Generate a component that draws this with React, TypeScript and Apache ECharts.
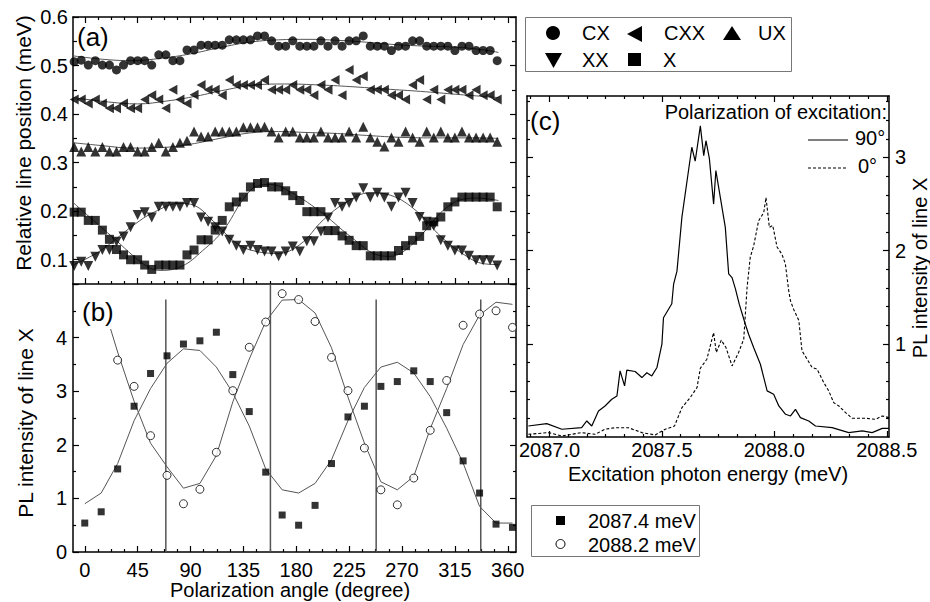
import React, { useEffect, useRef } from "react";
import * as echarts from "echarts";

const FONT = '"Liberation Sans", Arial, Helvetica, sans-serif';

// ---------- Panel (a): relative line positions ----------
const anglesA = [-9, -3, 3, 9, 15, 21, 27, 33, 39, 45, 51, 57, 63, 69, 75, 81, 87, 93, 99, 105, 111, 117, 123, 129, 135, 141, 147, 153, 159, 165, 171, 177, 183, 189, 195, 201, 207, 213, 219, 225, 231, 237, 243, 249, 255, 261, 267, 273, 279, 285, 291, 297, 303, 309, 315, 321, 327, 333, 339, 345, 351];
const cxVals = [0.508, 0.511, 0.501, 0.510, 0.501, 0.501, 0.491, 0.501, 0.510, 0.510, 0.510, 0.501, 0.522, 0.522, 0.510, 0.510, 0.532, 0.532, 0.542, 0.542, 0.542, 0.542, 0.553, 0.553, 0.553, 0.553, 0.561,
  0.561, 0.551, 0.540, 0.540, 0.551, 0.540, 0.540, 0.540, 0.551, 0.540, 0.551, 0.540, 0.551, 0.551, 0.561, 0.540, 0.540, 0.540, 0.531, 0.540, 0.540, 0.551, 0.551, 0.540, 0.540, 0.540, 0.540, 0.531, 0.540, 0.540, 0.531, 0.531, 0.531, 0.510];
const cxxVals = [0.430, 0.430, 0.422, 0.430, 0.422, 0.412, 0.412, 0.422, 0.412, 0.412, 0.430, 0.439, 0.430, 0.412, 0.450, 0.430, 0.422, 0.440, 0.460, 0.450, 0.450, 0.439, 0.470, 0.460, 0.460, 0.460, 0.460,
  0.470, 0.450, 0.450, 0.450, 0.460, 0.450, 0.450, 0.439, 0.460, 0.450, 0.470, 0.439, 0.491, 0.470, 0.478, 0.450, 0.450, 0.450, 0.439, 0.439, 0.430, 0.460, 0.470, 0.430, 0.450, 0.430, 0.450, 0.450, 0.450, 0.439, 0.450, 0.439, 0.439, 0.430];
const uxVals = [0.332, 0.323, 0.332, 0.323, 0.332, 0.323, 0.323, 0.332, 0.332, 0.323, 0.323, 0.332, 0.341, 0.323, 0.332, 0.341, 0.345, 0.364, 0.354, 0.354, 0.364, 0.364, 0.364, 0.364, 0.373, 0.373, 0.373,
  0.374, 0.364, 0.352, 0.364, 0.364, 0.352, 0.352, 0.352, 0.364, 0.352, 0.352, 0.352, 0.364, 0.352, 0.374, 0.352, 0.343, 0.333, 0.352, 0.343, 0.364, 0.352, 0.343, 0.364, 0.352, 0.364, 0.352, 0.352, 0.364, 0.352, 0.352, 0.352, 0.352, 0.343];
const xxVals = [0.087, 0.096, 0.087, 0.106, 0.120, 0.120, 0.137, 0.148, 0.167, 0.192, 0.198, 0.187, 0.209, 0.209, 0.209, 0.209, 0.217, 0.217, 0.187, 0.178, 0.167, 0.158, 0.141, 0.129, 0.120, 0.129, 0.120,
  0.117, 0.117, 0.107, 0.117, 0.127, 0.117, 0.138, 0.138, 0.158, 0.187, 0.217, 0.209, 0.217, 0.228, 0.247, 0.228, 0.238, 0.228, 0.209, 0.228, 0.238, 0.217, 0.188, 0.178, 0.170, 0.140, 0.129, 0.119, 0.119, 0.108, 0.099, 0.099, 0.099, 0.088];
const xVals = [0.198, 0.198, 0.181, 0.181, 0.161, 0.142, 0.121, 0.110, 0.100, 0.100, 0.089, 0.080, 0.089, 0.089, 0.089, 0.089, 0.110, 0.120, 0.141, 0.141, 0.161, 0.181, 0.209, 0.219, 0.229, 0.250, 0.257,
  0.259, 0.250, 0.250, 0.242, 0.232, 0.222, 0.199, 0.199, 0.199, 0.160, 0.160, 0.149, 0.140, 0.129, 0.129, 0.108, 0.108, 0.108, 0.108, 0.119, 0.129, 0.140, 0.148, 0.170, 0.178, 0.188, 0.209, 0.219, 0.229, 0.229, 0.229, 0.229, 0.229, 0.209];

const fitCxAng = [-10, 15, 40, 65, 90, 115, 140, 165, 190, 215, 240, 265, 290, 315, 340, 352];
const fitCxVal = [0.520, 0.513, 0.510, 0.515, 0.524, 0.537, 0.548, 0.553, 0.554, 0.552, 0.548, 0.543, 0.540, 0.538, 0.532, 0.527];
const fitCxxAng = [-10, 20, 45, 70, 95, 120, 145, 170, 200, 230, 260, 290, 320, 352];
const fitCxxVal = [0.434, 0.425, 0.421, 0.427, 0.437, 0.450, 0.460, 0.462, 0.460, 0.456, 0.451, 0.446, 0.440, 0.434];
const fitUxAng = [-10, 15, 40, 65, 90, 115, 140, 165, 190, 215, 240, 270, 300, 330, 352];
const fitUxVal = [0.341, 0.335, 0.330, 0.331, 0.338, 0.350, 0.361, 0.364, 0.362, 0.360, 0.356, 0.352, 0.351, 0.351, 0.350];
const fitXxAng = [-10, 13, 42, 59, 81, 93, 110, 127, 141, 164, 183, 203, 223, 243, 260, 283, 303, 325, 339, 352];
const fitXxVal = [0.089, 0.118, 0.172, 0.198, 0.216, 0.212, 0.178, 0.138, 0.120, 0.113, 0.131, 0.182, 0.219, 0.238, 0.233, 0.199, 0.148, 0.107, 0.092, 0.090];
const fitXAng = [-10, 22, 53, 65, 83, 100, 118, 135, 147, 158, 172, 200, 226, 249, 260, 270, 283, 311, 334, 352];
const fitXVal = [0.218, 0.150, 0.086, 0.078, 0.087, 0.118, 0.161, 0.225, 0.252, 0.255, 0.244, 0.200, 0.148, 0.110, 0.107, 0.115, 0.142, 0.213, 0.227, 0.222];

// ---------- Panel (b): PL intensity vs polarization angle ----------
const anglesB = [0, 14, 28, 42, 56, 70, 84, 98, 112, 126, 140, 154, 168, 182, 196, 210, 224, 238, 252, 266, 280, 294, 308, 322, 336, 350, 364];
const sq874 = [0.54, 0.75, 1.55, 2.72, 3.33, 3.66, 3.88, 3.94, 4.10, 3.31, 2.62, 1.49, 0.69, 0.50, 0.87, 1.65, 2.52, 2.72, 3.09, 3.18, 3.38, 3.18, 2.60, 1.70, 1.10, 0.52, 0.46];
const ci882 = [null, null, 3.58, 3.09, 2.17, 1.43, 0.90, 1.17, 1.86, 3.01, 3.82, 4.29, 4.82, 4.71, 4.30, 3.63, 3.01, 1.94, 1.16, 0.88, 1.38, 2.27, 3.20, 4.23, 4.44, 4.50, 4.19];
const fitSqB = [0.90, 1.10, 1.65, 2.45, 3.05, 3.52, 3.79, 3.76, 3.45, 2.97, 2.35, 1.55, 1.16, 1.10, 1.28, 1.72, 2.45, 3.07, 3.45, 3.54, 3.34, 2.90, 2.31, 1.66, 0.85, 0.54, 0.54];
const fitCiAng = [22, 28, 42, 56, 70, 84, 98, 112, 126, 140, 154, 168, 182, 196, 210, 224, 238, 252, 266, 280, 294, 308, 322, 336, 350, 364];
const fitCiVal = [4.16, 3.73, 2.81, 2.03, 1.59, 1.19, 1.28, 1.80, 2.80, 3.60, 4.30, 4.70, 4.71, 4.46, 3.81, 2.89, 2.03, 1.31, 1.16, 1.41, 2.30, 3.05, 3.87, 4.42, 4.66, 4.62];
const vLineAng = [69, 158, 248, 337];
const vLineTop = [4.71, 5.0, 4.71, 4.71];

// ---------- Panel (c): excitation spectra ----------
const spec90 = [
  [2086.906, 0.118], [2086.988, 0.143], [2087.055, 0.083], [2087.143, 0.100], [2087.166, 0.172], [2087.188, 0.118], [2087.218, 0.280], [2087.247, 0.333], [2087.277, 0.405], [2087.300, 0.440],
  [2087.314, 0.710], [2087.334, 0.548], [2087.344, 0.717], [2087.381, 0.703], [2087.411, 0.638], [2087.433, 0.690], [2087.455, 0.656], [2087.478, 0.746], [2087.500, 0.997], [2087.507, 1.280],
  [2087.544, 1.430], [2087.552, 1.640], [2087.567, 1.780], [2087.589, 2.360], [2087.616, 2.820], [2087.633, 3.110], [2087.648, 2.960], [2087.671, 3.340], [2087.686, 3.020], [2087.696, 3.180],
  [2087.711, 2.990], [2087.730, 2.500], [2087.740, 2.860], [2087.760, 2.570], [2087.782, 2.250], [2087.797, 1.750], [2087.812, 1.710], [2087.827, 1.590], [2087.844, 1.426], [2087.871, 1.210],
  [2087.886, 1.100], [2087.908, 0.960], [2087.938, 0.781], [2087.968, 0.495], [2087.997, 0.459], [2088.020, 0.333], [2088.050, 0.244], [2088.072, 0.226], [2088.094, 0.297], [2088.116, 0.208],
  [2088.153, 0.172], [2088.183, 0.118], [2088.257, 0.100], [2088.331, 0.047], [2088.391, 0.065], [2088.435, 0.047], [2088.480, 0.093], [2088.510, 0.093],
];
const spec0 = [
  [2086.906, 0.029], [2086.995, 0.047], [2087.055, 0.011], [2087.143, 0.047], [2087.203, 0.029], [2087.247, 0.083], [2087.292, 0.100], [2087.351, 0.100], [2087.411, 0.047], [2087.470, 0.022],
  [2087.515, 0.083], [2087.556, 0.118], [2087.589, 0.315], [2087.626, 0.423], [2087.656, 0.530], [2087.671, 0.738], [2087.700, 0.835], [2087.730, 1.120], [2087.742, 0.907], [2087.764, 1.040],
  [2087.785, 0.960], [2087.812, 0.763], [2087.841, 0.907], [2087.864, 1.050], [2087.879, 1.610], [2087.893, 1.930], [2087.908, 2.050], [2087.930, 2.320], [2087.953, 2.410], [2087.963, 2.570],
  [2087.978, 2.250], [2087.993, 2.270], [2088.012, 2.040], [2088.034, 1.960], [2088.049, 1.860], [2088.064, 1.570], [2088.072, 1.460], [2088.086, 1.370], [2088.109, 1.250], [2088.123, 0.925],
  [2088.146, 0.835], [2088.168, 0.746], [2088.190, 0.728], [2088.220, 0.584], [2088.242, 0.495], [2088.264, 0.369], [2088.287, 0.333], [2088.317, 0.262], [2088.346, 0.201], [2088.406, 0.201],
  [2088.450, 0.190], [2088.480, 0.226], [2088.510, 0.208],
];

// ---------- tick positions ----------
const angMajor = [0, 45, 90, 135, 180, 225, 270, 315, 360];
const angMinor = angMajor.flatMap((a) => [a + 11.25, a + 22.5, a + 33.75]).filter((a) => a < 367);
const aYMajor = [0.1, 0.2, 0.3, 0.4, 0.5, 0.6];
const aYMinor = [0.05, 0.15, 0.25, 0.35, 0.45, 0.55];
const bYMajor = [0, 1, 2, 3, 4, 5];
const bYLabels = [0, 1, 2, 3, 4];
const bYMinor = [0.5, 1.5, 2.5, 3.5, 4.5];
const eMajor = [2087.0, 2087.5, 2088.0, 2088.5];
const eMinor = [-1, 1, 2, 3, 4, 5, 7, 8, 9, 10, 11, 13, 14, 15, 16, 17].map((k) => 2087 + k / 12);
const cYMajor = [1, 2, 3];
const cYMinor = [0.2, 0.4, 0.6, 0.8, 1.2, 1.4, 1.6, 1.8, 2.2, 2.4, 2.6, 2.8, 3.2, 3.4, 3.6];

type AxOpt = {
  grid: number; pos: string; min: number; max: number; ticks: number[]; len: number;
  labels?: number[]; fmt?: (v: number) => string; margin?: number; line?: boolean;
};
function axis(o: AxOpt) {
  return {
    type: "value",
    gridIndex: o.grid,
    position: o.pos,
    min: o.min,
    max: o.max,
    axisLine: { show: o.line !== false, onZero: false, lineStyle: { color: "#000", width: 1.5 } },
    axisTick: {
      show: o.ticks.length > 0, inside: true, length: o.len, customValues: o.ticks,
      lineStyle: { color: "#000", width: 1.2 },
    },
    axisLabel: o.labels
      ? { show: true, customValues: o.labels, formatter: o.fmt, fontSize: 20, fontFamily: FONT, color: "#000", margin: o.margin ?? 6 }
      : { show: false },
    splitLine: { show: false },
    minorTick: { show: false },
    minorSplitLine: { show: false },
  };
}

const AMIN = -10, AMAX = 367;
const EMIN = 2086.9, EMAX = 2088.51;
const CMAX = 3.66;

const xAxes = [
  axis({ grid: 0, pos: "bottom", min: AMIN, max: AMAX, ticks: angMajor, len: 6 }),
  axis({ grid: 0, pos: "bottom", min: AMIN, max: AMAX, ticks: angMinor, len: 3, line: false }),
  axis({ grid: 0, pos: "top", min: AMIN, max: AMAX, ticks: angMajor, len: 6 }),
  axis({ grid: 0, pos: "top", min: AMIN, max: AMAX, ticks: angMinor, len: 3, line: false }),
  axis({ grid: 1, pos: "bottom", min: AMIN, max: AMAX, ticks: angMajor, len: 6, labels: angMajor, fmt: (v) => String(Math.round(v)), margin: 8 }),
  axis({ grid: 1, pos: "bottom", min: AMIN, max: AMAX, ticks: angMinor, len: 3, line: false }),
  axis({ grid: 2, pos: "bottom", min: EMIN, max: EMAX, ticks: eMajor, len: 6, labels: eMajor, fmt: (v) => v.toFixed(1), margin: 3 }),
  axis({ grid: 2, pos: "bottom", min: EMIN, max: EMAX, ticks: eMinor, len: 3, line: false }),
  axis({ grid: 2, pos: "top", min: EMIN, max: EMAX, ticks: eMajor, len: 6 }),
  axis({ grid: 2, pos: "top", min: EMIN, max: EMAX, ticks: eMinor, len: 3, line: false }),
];

const yAxes = [
  axis({ grid: 0, pos: "left", min: 0.05, max: 0.6, ticks: aYMajor, len: 6, labels: aYMajor, fmt: (v) => v.toFixed(1), margin: 5 }),
  axis({ grid: 0, pos: "left", min: 0.05, max: 0.6, ticks: aYMinor, len: 4, line: false }),
  axis({ grid: 0, pos: "right", min: 0.05, max: 0.6, ticks: aYMajor, len: 6 }),
  axis({ grid: 0, pos: "right", min: 0.05, max: 0.6, ticks: aYMinor, len: 4, line: false }),
  axis({ grid: 1, pos: "left", min: 0, max: 5, ticks: bYMajor, len: 6, labels: bYLabels, fmt: (v) => String(Math.round(v)), margin: 6 }),
  axis({ grid: 1, pos: "left", min: 0, max: 5, ticks: bYMinor, len: 3, line: false }),
  axis({ grid: 1, pos: "right", min: 0, max: 5, ticks: bYMajor, len: 6 }),
  axis({ grid: 1, pos: "right", min: 0, max: 5, ticks: bYMinor, len: 3, line: false }),
  axis({ grid: 2, pos: "right", min: 0, max: CMAX, ticks: cYMajor, len: 6, labels: cYMajor, fmt: (v) => String(Math.round(v)), margin: 6 }),
  axis({ grid: 2, pos: "right", min: 0, max: CMAX, ticks: cYMinor, len: 3, line: false }),
  axis({ grid: 2, pos: "left", min: 0, max: CMAX, ticks: cYMajor, len: 6 }),
  axis({ grid: 2, pos: "left", min: 0, max: CMAX, ticks: cYMinor, len: 3, line: false }),
];

const pair = (xs: number[], ys: (number | null)[]) =>
  xs.map((x, i) => (ys[i] == null ? null : [x, ys[i]])).filter((p) => p !== null);

const TRI_LEFT = "path://M0,5L10,0L10,10Z";
const TRI_DOWN = "path://M0,0L10,0L5,10Z";

function scatterA(name: string, vals: number[], symbol: string, size: number | number[]) {
  return {
    name, type: "scatter", xAxisIndex: 0, yAxisIndex: 0, data: pair(anglesA, vals),
    symbol, symbolSize: size, itemStyle: { color: "#000" }, z: 3,
  };
}
function fitA(ang: number[], val: number[]) {
  return {
    type: "line", xAxisIndex: 0, yAxisIndex: 0, data: pair(ang, val), smooth: 0.4,
    symbol: "none", lineStyle: { color: "#555", width: 1 }, z: 2,
  };
}

const series: any[] = [
  fitA(fitCxAng, fitCxVal), fitA(fitCxxAng, fitCxxVal), fitA(fitUxAng, fitUxVal), fitA(fitXxAng, fitXxVal), fitA(fitXAng, fitXVal),
  scatterA("CX", cxVals, "circle", 9),
  scatterA("CXX", cxxVals, TRI_LEFT, [9, 10]),
  scatterA("UX", uxVals, "triangle", 10),
  scatterA("XX", xxVals, TRI_DOWN, 10),
  scatterA("X", xVals, "rect", 9),
  ...vLineAng.map((a, i) => ({
    type: "line", xAxisIndex: 4, yAxisIndex: 4, data: [[a, 0], [a, vLineTop[i]]], symbol: "none",
    lineStyle: { color: "#555", width: 1.5 }, z: 1,
  })),
  {
    type: "line", xAxisIndex: 4, yAxisIndex: 4, data: pair(anglesB, fitSqB), symbol: "none",
    lineStyle: { color: "#555", width: 1 }, z: 2,
  },
  {
    type: "line", xAxisIndex: 4, yAxisIndex: 4, data: pair(fitCiAng, fitCiVal), symbol: "none",
    lineStyle: { color: "#555", width: 1 }, z: 2,
  },
  {
    name: "2087.4 meV", type: "scatter", xAxisIndex: 4, yAxisIndex: 4, data: pair(anglesB, sq874),
    symbol: "rect", symbolSize: 7, itemStyle: { color: "#000" }, z: 3,
  },
  {
    name: "2088.2 meV", type: "scatter", xAxisIndex: 4, yAxisIndex: 4, data: pair(anglesB, ci882),
    symbol: "circle", symbolSize: 8, itemStyle: { color: "#fff", borderColor: "#000", borderWidth: 1 }, z: 3,
  },
  {
    name: "90°", type: "line", xAxisIndex: 6, yAxisIndex: 8, data: spec90, symbol: "none",
    lineStyle: { color: "#000", width: 1.2 }, z: 2,
  },
  {
    name: "0°", type: "line", xAxisIndex: 6, yAxisIndex: 8, data: spec0, symbol: "none",
    lineStyle: { color: "#000", width: 1.1, type: [3, 2] }, z: 2,
  },
];

const txt = (text: string, x: number, y: number, size = 20, align = "left", rotation = 0) => ({
  type: "text", x, y, rotation, z: 10,
  style: { text, fontSize: size, fontFamily: FONT, fill: "#000", align, verticalAlign: "middle" },
});

const graphic: any[] = [
  txt("(a)", 77, 37, 26),
  txt("(b)", 82, 312, 26),
  txt("(c)", 530, 121, 26),
  txt("Relative line position (meV)", 23, 143, 21, "center", Math.PI / 2),
  txt("PL intensity of line X", 25, 423, 21, "center", Math.PI / 2),
  txt("Polarization angle (degree)", 290, 590, 20, "center"),
  txt("Excitation photon energy (meV)", 708, 474, 20, "center"),
  txt("PL intensity of line X", 920, 268, 20, "center", Math.PI / 2),
  // legend (a)
  { type: "rect", shape: { x: 525.5, y: 17.5, width: 266, height: 54 }, style: { fill: "#fff", stroke: "#777", lineWidth: 1 }, z: 9 },
  { type: "circle", shape: { cx: 553, cy: 33, r: 7 }, style: { fill: "#000" }, z: 10 },
  { type: "polygon", shape: { points: [[627, 34], [642, 26], [642, 42]] }, style: { fill: "#000" }, z: 10 },
  { type: "polygon", shape: { points: [[732, 26], [723, 40], [741, 40]] }, style: { fill: "#000" }, z: 10 },
  { type: "polygon", shape: { points: [[545, 53], [562, 53], [553.5, 68]] }, style: { fill: "#000" }, z: 10 },
  { type: "rect", shape: { x: 628, y: 53, width: 13, height: 13 }, style: { fill: "#000" }, z: 10 },
  txt("CX", 582, 33), txt("CXX", 664, 33), txt("UX", 758, 33), txt("XX", 582, 60), txt("X", 663, 60),
  // legend (b)
  { type: "rect", shape: { x: 531.5, y: 505.5, width: 168, height: 51 }, style: { fill: "#fff", stroke: "#777", lineWidth: 1 }, z: 9 },
  { type: "rect", shape: { x: 556, y: 516, width: 9, height: 9 }, style: { fill: "#000" }, z: 10 },
  { type: "circle", shape: { cx: 560.5, cy: 544, r: 4.5 }, style: { fill: "#fff", stroke: "#000", lineWidth: 1 }, z: 10 },
  txt("2087.4 meV", 588, 521), txt("2088.2 meV", 588, 545),
  // legend (c)
  txt("Polarization of excitation:", 887, 112, 20, "right"),
  { type: "line", shape: { x1: 808, y1: 140, x2: 848, y2: 140 }, style: { stroke: "#000", lineWidth: 1.2 }, z: 10 },
  txt("90°", 855, 138),
  { type: "line", shape: { x1: 808, y1: 168, x2: 848, y2: 168 }, style: { stroke: "#000", lineWidth: 1.1, lineDash: [3, 2] }, z: 10 },
  txt("0°", 858, 166),
];

const option = {
  animation: false,
  backgroundColor: "#fff",
  textStyle: { fontFamily: FONT },
  grid: [
    { left: 73, top: 17, width: 443, height: 267 },
    { left: 73, top: 284, width: 443, height: 268 },
    { left: 527, top: 96, width: 362, height: 341 },
  ],
  xAxis: xAxes,
  yAxis: yAxes,
  series,
  graphic,
};

export default function App() {
  const ref = useRef<HTMLDivElement>(null);
  useEffect(() => {
    const chart = echarts.init(ref.current!, null, { renderer: "svg" });
    chart.setOption(option as any);
    return () => chart.dispose();
  }, []);
  return (
    <div
      ref={ref}
      style={{ position: "fixed", left: 0, top: 0, width: 930, height: 602, background: "#fff" }}
    />
  );
}
